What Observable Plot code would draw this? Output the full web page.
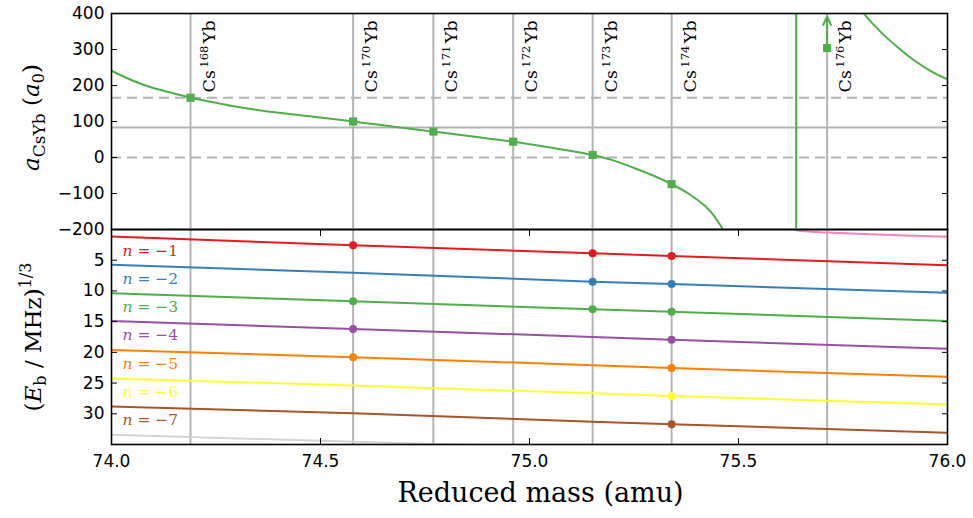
<!DOCTYPE html>
<html>
<head>
<meta charset="utf-8">
<script src="https://cdn.jsdelivr.net/npm/d3@7"></script>
<script src="https://cdn.jsdelivr.net/npm/@observablehq/plot@0.6"></script>
<style>
  body { margin: 0; background: #fff; }
  #wrap { position: relative; width: 973px; height: 518px; }
  #wrap svg { position: absolute; left: 0; top: 0; }
</style>
</head>
<body>
<div id="wrap"></div>
<script>
// ---------- data ----------
const isotopes = [168, 170, 171, 172, 173, 174, 176];
const isoMu = [74.189, 74.578, 74.770, 74.961, 75.151, 75.340, 75.712];
const scatLen = [166, 100, 72, 44, 7, -74, 304];
const lowerBoundIso = 176;           // drawn with an upward arrow
const abar = 83;                     // solid grey reference line
const dashedRefs = [0, 166];         // dashed grey reference lines

const branch1Mu = [74.0, 74.05, 74.1, 74.15, 74.189, 74.25, 74.3, 74.4, 74.5, 74.578, 74.65, 74.7, 74.77, 74.85, 74.9, 74.961, 75.05, 75.1, 75.151, 75.2, 75.25, 75.3, 75.34, 75.38, 75.42, 75.44, 75.463, 75.48];
const branch1A  = [241, 214, 193, 178, 166, 152, 141, 124, 111, 100, 89.5, 82, 72, 60.5, 53, 44, 28, 18, 7, -8, -29, -52, -74, -100, -135, -160, -200, -230];
const poleMu = 75.638;
const branch2Mu = [75.78, 75.80, 75.84, 75.88, 75.92, 75.96, 76.0];
const branch2A  = [440, 400, 349, 307, 270, 240, 217];

const levelMu = [74.0, 74.578, 75.151, 75.340, 76.0];
const levelN = [-1, -2, -3, -4, -5, -6, -7];
const levelE = [
  [1.15, 2.57, 3.86, 4.30, 5.81],
  [5.73, 7.05, 8.49, 8.87, 10.31],
  [10.36, 11.7, 13.0, 13.4, 14.88],
  [14.9, 16.2, 17.48, 17.96, 19.4],
  [19.6, 20.8, 22.08, 22.56, 23.97],
  [24.24, 25.4, 26.67, 27.1, 28.5],
  [28.8, 29.9, 31.28, 31.7, 33.1]
];
const levelColors = ["#e41a1c", "#377eb8", "#4daf4a", "#984ea3", "#ff7f00", "#ffff33", "#a65628"];
const measured = [[170, 173, 174], [173, 174], [170, 173, 174], [170, 174], [170, 174], [174], [174]];

const n8Mu = [74.0, 74.578, 75.0];
const n8E  = [33.4, 34.55, 35.3];
const n0Mu = [75.638, 75.66, 75.69, 75.712, 75.8, 75.9, 76.0];
const n0E  = [0.12, 0.3, 0.42, 0.5, 0.72, 0.96, 1.2];

const xTicks = [74.0, 74.5, 75.0, 75.5, 76.0];
const yTicksTop = [-200, -100, 0, 100, 200, 300, 400];
const yTicksBottom = [5, 10, 15, 20, 25, 30];
const yTicksBottomAll = [0, 5, 10, 15, 20, 25, 30, 35];

// ---------- helpers ----------
const W = 973, H = 518;
const GREEN = "#4daf4a", GRID = "#b3b3b3";
const SERIF = "DejaVu Serif";
const common = {
  width: W, height: H, marginLeft: 111, marginRight: 26,
  style: {background: "transparent", overflow: "visible", fontFamily: "DejaVu Sans", fontSize: "17px"}
};
const isoData = isotopes.map((m, i) => ({m, mu: isoMu[i], a: scatLen[i]}));
const branch1 = branch1Mu.map((mu, i) => ({mu, a: branch1A[i]}));
const branch2 = branch2Mu.map((mu, i) => ({mu, a: branch2A[i]}));
const levels = levelN.flatMap((n, k) => levelMu.map((mu, i) => ({n, mu, e: levelE[k][i], c: levelColors[k]})));
const levelDots = levelN.flatMap((n, k) => measured[k].map(m => {
  const mu = isoMu[isotopes.indexOf(m)];
  return {n, mu, e: levelE[k][levelMu.indexOf(mu)], c: levelColors[k]};
}));
const levelLabels = levelN.map((n, k) => ({n, mu: levelMu[0], e: levelE[k][0], c: levelColors[k]}));
const n8 = n8Mu.map((mu, i) => ({mu, e: n8E[i]}));
const n0 = n0Mu.map((mu, i) => ({mu, e: n0E[i]}));
const arrowData = isoData.filter(d => d.m === lowerBoundIso);

// ---------- top panel ----------
const topPlot = Plot.plot({
  ...common,
  marginTop: 13, marginBottom: H - 229,
  x: {domain: [74, 76], axis: null, label: null},
  y: {domain: [-200, 400], axis: null, label: null},
  marks: [
    Plot.ruleX(isoMu, {stroke: GRID, strokeWidth: 2}),
    Plot.ruleY([abar], {stroke: GRID, strokeWidth: 2}),
    Plot.ruleY(dashedRefs, {stroke: GRID, strokeWidth: 2, strokeDasharray: "10,6"}),
    Plot.line(branch1, {x: "mu", y: "a", stroke: GREEN, strokeWidth: 2, curve: "catmull-rom", clip: true}),
    Plot.ruleX([poleMu], {stroke: GREEN, strokeWidth: 2}),
    Plot.line(branch2, {x: "mu", y: "a", stroke: GREEN, strokeWidth: 2, curve: "catmull-rom", clip: true}),
    Plot.arrow(arrowData, {x1: "mu", y1: "a", x2: "mu", y2: () => 400, stroke: GREEN, strokeWidth: 2, headLength: 7, headAngle: 50, insetEnd: 3}),
    Plot.dot(isoData, {x: "mu", y: "a", symbol: "square", r: 4.6, fill: GREEN}),
    Plot.text(isoData, {x: "mu", frameAnchor: "top", text: d => `Cs ${d.m}Yb`, rotate: -90,
      textAnchor: "start", lineAnchor: "bottom", dx: 24, dy: 79, fontFamily: SERIF, fontSize: 17.5}),
    Plot.text(["a_CsYb (a_0)"], {frameAnchor: "left", rotate: -90, textAnchor: "middle", lineAnchor: "bottom",
      dx: -73, dy: -4, fontFamily: SERIF, fontSize: 23}),
    Plot.axisY({ticks: yTicksTop, tickSize: 0, tickPadding: 7, label: null}),
    Plot.axisY({ticks: yTicksTop, tickSize: -6, tickFormat: () => "", label: null}),
    Plot.axisY({ticks: yTicksTop, anchor: "right", tickSize: -6, tickFormat: () => "", label: null}),
    Plot.frame({stroke: "black", strokeWidth: 1.6})
  ]
});

// ---------- bottom panel ----------
const bottomPlot = Plot.plot({
  ...common,
  marginTop: 229, marginBottom: H - 444,
  x: {domain: [74, 76], axis: null, label: null},
  y: {domain: [0, 35], reverse: true, axis: null, label: null},
  marks: [
    Plot.ruleX(isoMu, {stroke: GRID, strokeWidth: 2}),
    Plot.line(n8, {x: "mu", y: "e", stroke: "#d4d4d4", strokeWidth: 2, clip: true}),
    Plot.line(n0, {x: "mu", y: "e", stroke: "#f781bf", strokeWidth: 2, curve: "catmull-rom", clip: true}),
    Plot.line(levels, {x: "mu", y: "e", z: "n", stroke: "c", strokeWidth: 2, clip: true}),
    Plot.dot(levelDots, {x: "mu", y: "e", fill: "c", r: 4}),
    Plot.text(levelLabels, {x: "mu", y: "e", text: d => `n = ${d.n < 0 ? "\u2212" + (-d.n) : d.n}`, fill: "c",
      textAnchor: "start", lineAnchor: "middle", dx: 11, dy: 14, fontFamily: SERIF, fontSize: 15.5}),
    Plot.text(["(E_b / MHz)^1/3"], {frameAnchor: "left", rotate: -90, textAnchor: "middle", lineAnchor: "bottom",
      dx: -71, dy: 0, fontFamily: SERIF, fontSize: 23}),
    Plot.text(["Reduced mass (amu)"], {frameAnchor: "bottom", textAnchor: "middle", lineAnchor: "bottom",
      dx: 11, dy: 57, fontFamily: SERIF, fontSize: 27}),
    Plot.axisX({ticks: xTicks, tickFormat: d3.format(".1f"), tickSize: 0, tickPadding: 10, label: null}),
    Plot.axisX({ticks: xTicks, anchor: "bottom", tickSize: -6, tickFormat: () => "", label: null}),
    Plot.axisX({ticks: xTicks, anchor: "top", tickSize: -6, tickFormat: () => "", label: null}),
    Plot.axisY({ticks: yTicksBottom, tickSize: 0, tickPadding: 7, label: null}),
    Plot.axisY({ticks: yTicksBottomAll, tickSize: -6, tickFormat: () => "", label: null}),
    Plot.axisY({ticks: yTicksBottomAll, anchor: "right", tickSize: -6, tickFormat: () => "", label: null}),
    Plot.frame({stroke: "black", strokeWidth: 1.6})
  ]
});

const wrap = document.getElementById("wrap");
wrap.appendChild(bottomPlot);
wrap.appendChild(topPlot);

// ---------- rich text (sub/superscripts, italics) ----------
function setRich(text, parts) {
  const t = d3.select(text);
  t.text(null);
  let base = 0;
  for (const p of parts) {
    const s = t.append("tspan").text(p.t);
    const shift = p.shift || 0;
    if (shift !== base) s.attr("dy", shift - base);
    base = shift;
    if (p.dx) s.attr("dx", p.dx);
    if (p.italic) s.attr("font-style", "italic");
    if (p.size) s.attr("font-size", p.size);
  }
}
d3.selectAll("#wrap text").each(function () {
  const s = this.textContent;
  let m;
  if ((m = s.match(/^Cs (\d+)Yb$/))) {
    setRich(this, [{t: "Cs"}, {t: m[1], shift: -7, size: 11.5, dx: 2.5}, {t: "Yb", shift: 0, dx: 2.5}]);
  } else if ((m = s.match(/^n = (.+)$/))) {
    setRich(this, [{t: "n", italic: true}, {t: " = " + m[1]}]);
  } else if (s === "a_CsYb (a_0)") {
    setRich(this, [{t: "a", italic: true}, {t: "CsYb", shift: 6, size: 17}, {t: " (", shift: 0},
      {t: "a", italic: true}, {t: "0", shift: 5, size: 16}, {t: ")", shift: 0}]);
  } else if (s === "(E_b / MHz)^1/3") {
    setRich(this, [{t: "("}, {t: "E", italic: true}, {t: "b", shift: 5, size: 16}, {t: " / MHz)", shift: 0},
      {t: "1/3", shift: -10, size: 16}]);
  }
});
</script>
</body>
</html>
